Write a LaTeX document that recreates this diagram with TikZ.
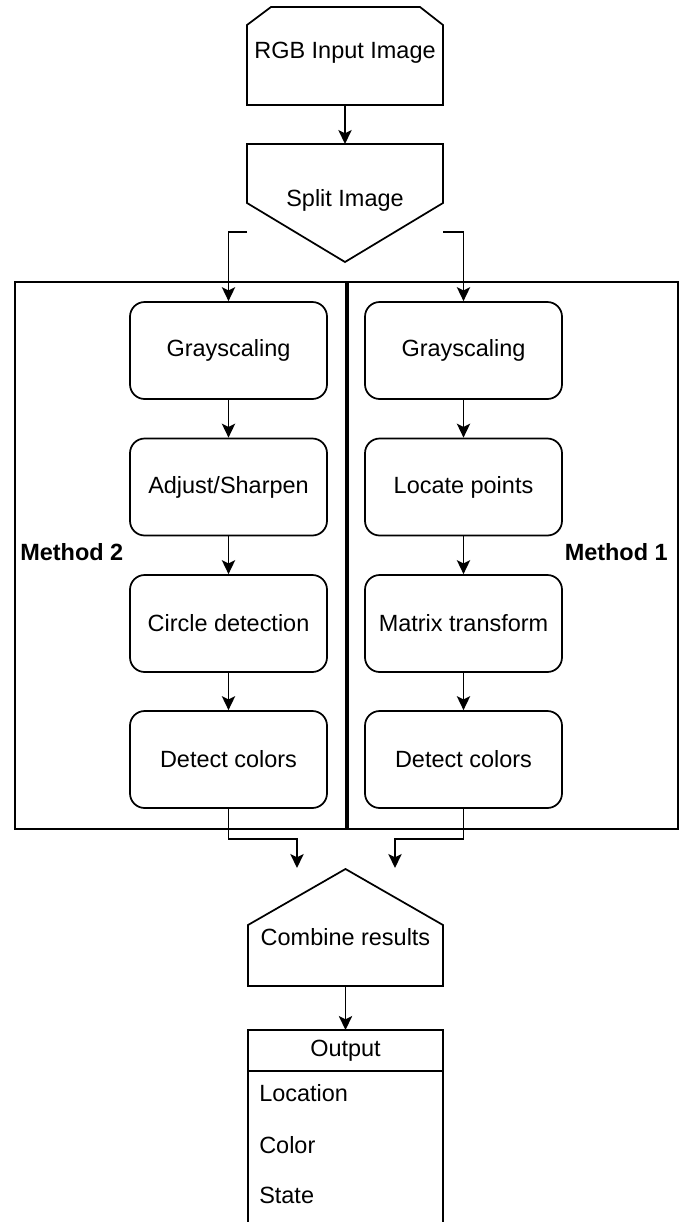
\documentclass[tikz,border=0pt]{standalone}
\usepackage{fontspec}
\setmainfont{Liberation Sans}
\usetikzlibrary{arrows.meta,calc}
\tikzset{
  px/.style={x=0.75pt,y=-0.75pt},
  ln/.style={line width=1.3pt,draw=black},
  arr/.style={ln,-{Stealth[length=10.5pt,width=10pt,inset=2.5pt]}},
  proc/.style={ln,rounded corners=11pt,minimum width=147.75pt,minimum height=72.75pt,inner sep=0pt,font=\fontsize{17.6}{20}\selectfont},
  hidden/.style={inner sep=0pt,outer sep=0pt},
  txt/.style={inner sep=0pt,font=\fontsize{17.6}{20}\selectfont},
  lbl/.style={inner sep=0pt,font=\bfseries\fontsize{17.6}{20}\selectfont},
}
\begin{document}
\begin{tikzpicture}[px]
\useasboundingbox (0,0) rectangle (681,1222);
% containers
\node[ln,hidden,minimum width=249pt,minimum height=410.25pt] (lane2) at (181,555.5) {};
\node[ln,hidden,minimum width=248.25pt,minimum height=410.25pt] (lane1) at (512.5,555.5) {};
\draw[line width=2.4pt] (lane2.north east) -- (lane2.south east);
\node[lbl,anchor=west] (m2) at (20,552) {Method 2};
\node[lbl,anchor=east] (m1) at (668,552) {Method 1};
% RGB input image
\node[hidden,minimum width=147pt,minimum height=73.5pt] (rgb) at (345,56) {};
\draw[ln] (247,105) -- (247,25) -- (271,7) -- (420,7) -- (443,25) -- (443,105) -- cycle;
\node[txt] (rgbt) at (345,53) {RGB Input Image};
% split image
\node[hidden,minimum width=147pt,minimum height=88.5pt] (split) at (345,203) {};
\draw[ln] (247,144) -- (443,144) -- (443,203) -- (345,262) -- (247,203) -- cycle;
\node[txt] (splitt) at (345,200) {Split Image};
% method 2 column
\node[proc] (g2) at (228.5,350.5) {Grayscaling};
\node[proc] (a2) at (228.5,487) {Adjust/Sharpen};
\node[proc] (c2) at (228.5,623.5) {Circle detection};
\node[proc] (d2) at (228.5,759.5) {Detect colors};
% method 1 column
\node[proc] (g1) at (463.5,350.5) {Grayscaling};
\node[proc] (l1) at (463.5,487) {Locate points};
\node[proc] (t1) at (463.5,623.5) {Matrix transform};
\node[proc] (d1) at (463.5,759.5) {Detect colors};
% combine results
\node[hidden,minimum width=147pt,minimum height=87.75pt] (comb) at (345.5,927.5) {};
\draw[ln] (248,986) -- (248,925) -- (345.5,869) -- (443,925) -- (443,986) -- cycle;
\node[txt] (combt) at (345.5,937) {Combine results};
% output table
\node[ln,hidden,minimum width=146.25pt,minimum height=30.75pt,txt] (out) at (345.5,1050.5) {Output};
\draw[ln] (out.south west) -- (248,1224);
\draw[ln] (out.south east) -- (443,1224);
\node[txt,anchor=west] (loc) at (259,1093) {Location};
\node[txt,anchor=west] (col) at (259,1145) {Color};
\node[txt,anchor=west] (sta) at (259,1195) {State};
% connectors
\draw[arr] (rgb.south) -- (split.north);
\coordinate (sl) at (247,232);
\coordinate (sr) at (443,232);
\draw[arr] (sl) -| (g2.north);
\draw[arr] (sr) -| (g1.north);
\draw[arr] (g2) -- (a2);
\draw[arr] (a2) -- (c2);
\draw[arr] (c2) -- (d2);
\draw[arr] (g1) -- (l1);
\draw[arr] (l1) -- (t1);
\draw[arr] (t1) -- (d1);
\coordinate (e2) at (297,868);
\coordinate (e1) at (395,868);
\draw[arr] (d2.south) -- ++(0,30) -| (e2);
\draw[arr] (d1.south) -- ++(0,30) -| (e1);
\draw[arr] (comb.south) -- (out.north);
\end{tikzpicture}
\end{document}
